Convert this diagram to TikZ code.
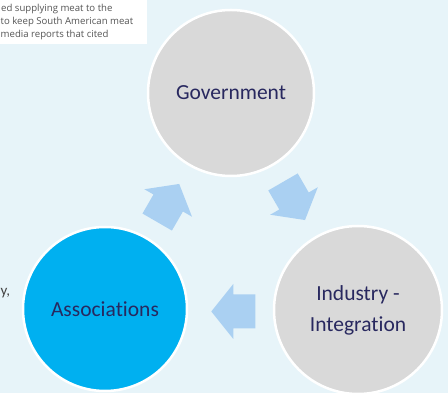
\documentclass[tikz,border=0pt]{standalone}
\usepackage{fontspec}
\setmainfont{Carlito}[Ligatures=NoCommon]
\newfontfamily\notefont{Open Sans}
\definecolor{bgblue}{RGB}{231,244,249}
\definecolor{circgray}{RGB}{217,217,217}
\definecolor{circblue}{RGB}{0,176,240}
\definecolor{arrowfill}{RGB}{170,208,242}
\definecolor{navytext}{RGB}{40,40,95}
\definecolor{notetext}{RGB}{85,85,85}
\tikzset{
  bubble/.style={circle, draw=white, line width=2.5pt, inner sep=0pt, align=center,
    text=navytext, font=\fontsize{21.5}{31}\selectfont},
  notestyle/.style={anchor=base west, inner sep=0pt, text=notetext, font=\notefont\fontsize{9.6}{12}\selectfont},
  blockarrow/.pic={\fill[arrowfill] (-22,-17) -- (0,-17) -- (0,-27.5) -- (22,0) -- (0,27.5) -- (0,17) -- (-22,17) -- cycle;}
}
\begin{document}
\begin{tikzpicture}[x=1pt,y=1pt]
\useasboundingbox (0,0) rectangle (448,393);
\fill[bgblue] (0,0) rectangle (448,393);
% note box
\node[fill=white, anchor=north west, minimum width=146.5pt, minimum height=43.5pt, inner sep=0pt] (note) at (0,393) {};
\node[notestyle] (l1) at (1,381) {ed supplying meat to the};
\node[notestyle] (l2) at (0.5,368) {to keep South American meat};
\node[notestyle] (l3) at (0.5,355) {media reports that cited};
% partial text at left
\node[anchor=base west, inner sep=0pt, text=notetext!80!black, font=\fontsize{15}{18}\selectfont] (frag) at (0.5,97) {y,};
% circles
\node[bubble, fill=circgray, minimum size=166pt] (gov) at (231,300) {Government};
\node[bubble, fill=circblue, minimum size=164pt] (assoc) at (105,84) {Associations};
\node[bubble, fill=circgray, minimum size=168pt] (ind) at (358,83) {Industry -\\Integration};
% block arrows
\pic[rotate=60] (a1) at (168.2,190) {blockarrow};
\pic[rotate=-60] (a2) at (294,192) {blockarrow};
\pic[rotate=180] (a3) at (233.3,81.5) {blockarrow};
\end{tikzpicture}
\end{document}
